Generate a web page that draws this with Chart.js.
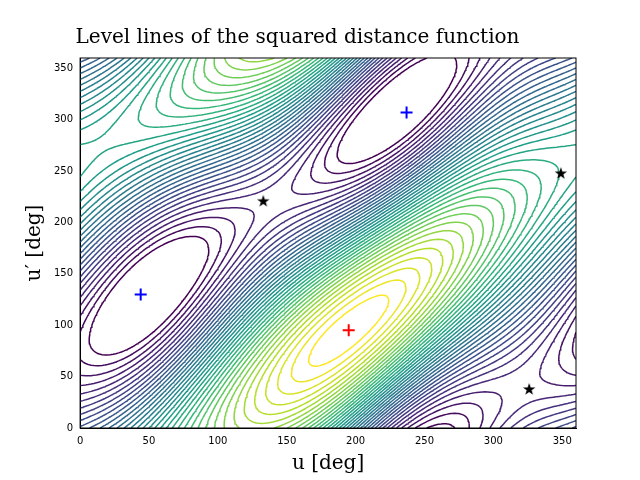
<!DOCTYPE html>
<html>
<head>
<meta charset="utf-8">
<script src="https://cdn.jsdelivr.net/npm/chart.js@4/dist/chart.umd.min.js"></script>
<style>
  body { margin: 0; background: #fff; }
  #wrap { width: 640px; height: 480px; }
</style>
</head>
<body>
<div id="wrap"><canvas id="c"></canvas></div>
<script>
// field model parameters
const minPoint = [195, 95];
const diagShift = [100];
const fieldWeights = [1.0, 0.55, 0.22];
const maxPhase = [100];
const levelCount = [40];
const levelCut = [0.93];

// markers
const blueCross = [{x: 44, y: 130}, {x: 237, y: 307}];
const redCross = [{x: 195, y: 95}];
const stars = [{x: 133, y: 221}, {x: 349, y: 248}, {x: 326, y: 38}];
const ticks = [0, 50, 100, 150, 200, 250, 300, 350];

const rad = Math.PI / 180;
function field(u, v) {
    const dp = (u - v - diagShift[0]) * rad;
    const c = Math.cos(dp);
    const w1 = (1 + c) / 2, w2 = (1 - c) / 2;
    return -fieldWeights[0] * c
        - fieldWeights[1] * w1 * Math.cos((u - minPoint[0]) * rad)
        + fieldWeights[2] * w2 * Math.cos((2 * u - maxPhase[0]) * rad);
}

const N = 180, step = 360 / N;
const grid = [];
let fmin = Infinity, fmax = -Infinity;
for (let j = 0; j <= N; j++) {
    grid.push([]);
    for (let i = 0; i <= N; i++) {
        const f = field(i * step, j * step);
        grid[j].push(f);
        fmin = Math.min(fmin, f); fmax = Math.max(fmax, f);
    }
}

const viridis = ['#440154','#482878','#3e4989','#31688e','#26828e','#1f9e89','#35b779','#6ece58','#b5de2b','#fde725'];
function colorAt(t) {
    const p = t * (viridis.length - 1);
    const i = Math.min(Math.floor(p), viridis.length - 2);
    const f = p - i;
    const a = parseInt(viridis[i].slice(1), 16), b = parseInt(viridis[i + 1].slice(1), 16);
    const ch = s => Math.round(((a >> s) & 255) * (1 - f) + ((b >> s) & 255) * f);
    return `rgb(${ch(16)},${ch(8)},${ch(0)})`;
}

function contour(level) {
    const pts = [];
    const interp = (x1, y1, f1, x2, y2, f2) => {
        const t = (level - f1) / (f2 - f1);
        return {x: x1 + (x2 - x1) * t, y: y1 + (y2 - y1) * t};
    };
    for (let j = 0; j < N; j++) {
        for (let i = 0; i < N; i++) {
            const x0 = i * step, y0 = j * step, x1 = x0 + step, y1 = y0 + step;
            const a = grid[j][i], b = grid[j][i + 1], c = grid[j + 1][i + 1], d = grid[j + 1][i];
            const e = [];
            if ((a < level) !== (b < level)) e.push(interp(x0, y0, a, x1, y0, b));
            if ((b < level) !== (c < level)) e.push(interp(x1, y0, b, x1, y1, c));
            if ((c < level) !== (d < level)) e.push(interp(x1, y1, c, x0, y1, d));
            if ((d < level) !== (a < level)) e.push(interp(x0, y1, d, x0, y0, a));
            for (let k = 0; k + 1 < e.length; k += 2) {
                pts.push(e[k], e[k + 1], {x: null, y: null});
            }
        }
    }
    return pts;
}

const datasets = [];
const kMax = Math.floor(levelCount[0] * levelCut[0]);
for (let k = 1; k <= kMax; k++) {
    const lev = fmin + (fmax - fmin) * k / levelCount[0];
    const t = 1 - (k - 1) / (kMax - 1);
    datasets.push({
        data: contour(lev), showLine: true, spanGaps: false, pointRadius: 0,
        borderColor: colorAt(t), borderWidth: 1.5, order: 2
    });
}

function starImage() {
    const cv = document.createElement('canvas');
    cv.width = cv.height = 14;
    const g = cv.getContext('2d');
    g.beginPath();
    for (let i = 0; i < 10; i++) {
        const r = i % 2 ? 2.6 : 6.5, a = -Math.PI / 2 + i * Math.PI / 5;
        g.lineTo(7 + r * Math.cos(a), 7.5 + r * Math.sin(a));
    }
    g.closePath(); g.fillStyle = '#000'; g.fill();
    return cv;
}
datasets.push({data: blueCross, pointStyle: 'cross', pointRadius: 6, borderColor: '#0000ff', borderWidth: 2, order: 0});
datasets.push({data: redCross, pointStyle: 'cross', pointRadius: 6, borderColor: '#ff0000', borderWidth: 2, order: 0});
datasets.push({data: stars, pointStyle: starImage(), pointRadius: 7, order: 0});

new Chart(document.getElementById('c'), {
    type: 'scatter',
    data: { datasets },
    options: {
        responsive: true, maintainAspectRatio: false, animation: false,
        layout: { padding: { left: 19, right: 64, top: 10, bottom: 2 } },
        plugins: {
            legend: { display: false }, tooltip: { enabled: false },
            title: { display: true, text: 'Level lines of the squared distance function', color: '#000',
                font: { family: 'DejaVu Serif', size: 20, weight: 'normal' }, padding: { top: 16, bottom: 8 } }
        },
        scales: {
            x: {
                min: 0, max: 360, afterBuildTicks: ax => { ax.ticks = ticks.map(v => ({value: v})); },
                grid: { display: false, drawTicks: true, tickLength: 4 },
                border: { color: '#000', width: 1 },
                ticks: { color: '#000', font: { family: 'DejaVu Sans', size: 10 }, maxRotation: 0 },
                title: { display: true, text: 'u [deg]', color: '#000', font: { family: 'DejaVu Serif', size: 20 }, padding: 2 }
            },
            y: {
                min: 0, max: 360, afterBuildTicks: ax => { ax.ticks = ticks.map(v => ({value: v})); },
                grid: { display: false, tickLength: 4 },
                border: { color: '#000', width: 1 },
                ticks: { color: '#000', font: { family: 'DejaVu Sans', size: 10 } },
                title: { display: true, text: 'u′ [deg]', color: '#000', font: { family: 'DejaVu Serif', size: 20 }, padding: 4 }
            }
        }
    },
    plugins: [{
        id: 'frame',
        afterDraw(chart) {
            const {ctx, chartArea: a} = chart;
            ctx.save(); ctx.strokeStyle = '#000'; ctx.lineWidth = 1;
            ctx.strokeRect(a.left, a.top, a.right - a.left, a.bottom - a.top);
            ctx.restore();
        }
    }]
});
</script>
</body>
</html>
